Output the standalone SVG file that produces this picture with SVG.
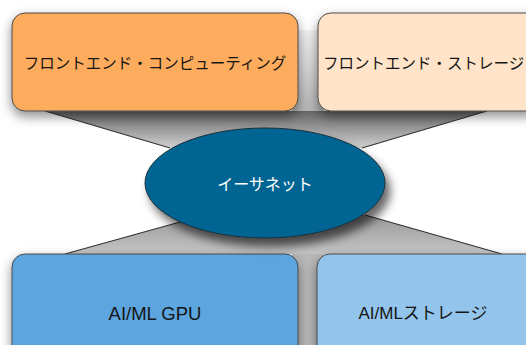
<svg xmlns="http://www.w3.org/2000/svg" width="526" height="345" viewBox="0 0 526 345">
<defs>
<filter id="sh" x="-20%" y="-20%" width="140%" height="150%">
<feDropShadow dx="0" dy="5" stdDeviation="6" flood-color="#000" flood-opacity="0.45"/>
</filter>
<filter id="esh" x="-20%" y="-20%" width="140%" height="150%">
<feDropShadow dx="5" dy="8" stdDeviation="5" flood-color="#000" flood-opacity="0.6"/>
</filter>
<linearGradient id="gtop" x1="0" y1="0" x2="0" y2="1">
<stop offset="0" stop-color="#666"/>
<stop offset="1" stop-color="#d0d0d0"/>
</linearGradient>
<linearGradient id="gbot" x1="0" y1="0" x2="0" y2="1">
<stop offset="0" stop-color="#9a9a9a"/>
<stop offset="1" stop-color="#c4c4c4"/>
</linearGradient>
<linearGradient id="ggap" x1="0" y1="0" x2="0" y2="1">
<stop offset="0" stop-color="#f2f2f2"/>
<stop offset="1" stop-color="#b4b4b4"/>
</linearGradient>
</defs>
<style>
.box{stroke:#4a4a4a;stroke-width:1}
.jp{font-family:"Noto Sans CJK JP","Noto Sans",sans-serif;font-size:15.5px;fill:#151515}
.en{font-family:"Liberation Sans","Noto Sans CJK JP",sans-serif;font-size:18.5px;fill:#151515}
.ln{stroke:#333;stroke-width:1.2;fill:none}
</style>
<rect width="526" height="345" fill="#fff"/>
<g id="connectors">
<rect x="292" y="30" width="32" height="82" fill="url(#ggap)"/>
<rect x="292" y="250" width="32" height="95" fill="#b8b8b8"/>
<polygon points="45,111 487,111 362,148 170,148" fill="url(#gtop)"/>
<polygon points="65,254 180,222 365,215 502,254" fill="url(#gbot)"/>
<line class="ln" x1="45" y1="111" x2="170" y2="148"/>
<line class="ln" x1="487" y1="111" x2="362" y2="148"/>
<line class="ln" x1="65" y1="254" x2="180" y2="222"/>
<line class="ln" x1="502" y1="254" x2="365" y2="215"/>
</g>
<g id="node-fe-compute">
<rect class="box" x="12" y="13" width="286" height="98" rx="13" fill="#fdab5b" filter="url(#sh)"/>
<text class="jp" x="155" y="62" text-anchor="middle" dominant-baseline="central">フロントエンド・コンピューティング</text>
</g>
<g id="node-fe-storage">
<rect class="box" x="318" y="13" width="222" height="98" rx="13" fill="#ffe4c9" filter="url(#sh)"/>
<text class="jp" x="323" y="62" dominant-baseline="central">フロントエンド・ストレージ</text>
</g>
<g id="node-aiml-gpu">
<rect class="box" x="12" y="254" width="286" height="110" rx="13" fill="#5ca5df" filter="url(#sh)"/>
<text class="en" x="155" y="313" text-anchor="middle" dominant-baseline="central">AI/ML GPU</text>
</g>
<g id="node-aiml-storage">
<rect class="box" x="317" y="254" width="222" height="110" rx="13" fill="#92c4ec" filter="url(#sh)"/>
<text class="en" x="423" y="313" text-anchor="middle" dominant-baseline="central" style="font-size:17px">AI/MLストレージ</text>
</g>
<g id="node-ethernet">
<ellipse cx="265" cy="183" rx="120" ry="55" fill="#006592" stroke="#1c2e3a" stroke-width="1" filter="url(#esh)"/>
<text class="jp" x="265" y="183" text-anchor="middle" dominant-baseline="central" style="fill:#fff;font-size:16px">イーサネット</text>
</g>
</svg>
